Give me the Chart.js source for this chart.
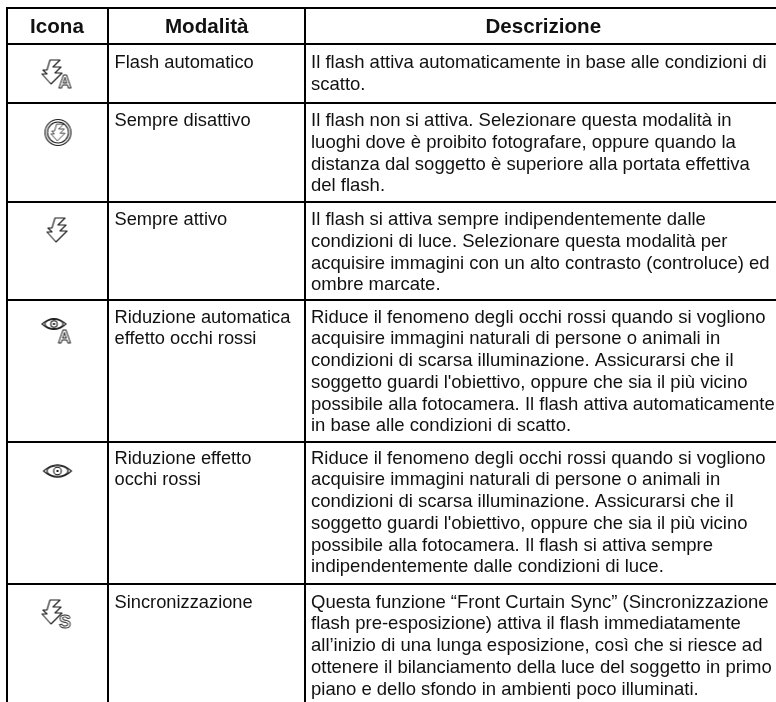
<!DOCTYPE html>
<html>
<head>
<meta charset="utf-8">
<style>
  html, body { margin: 0; padding: 0; background: #fff; }
  canvas { display: block; }
</style>
<script src="https://cdn.jsdelivr.net/npm/chart.js@4"></script>
</head>
<body>
<canvas id="tableChart" width="776" height="702"></canvas>
<script>
const headers = ['Icona', 'Modalità', 'Descrizione'];

const modes = [
  ['Flash automatico'],
  ['Sempre disattivo'],
  ['Sempre attivo'],
  ['Riduzione automatica', 'effetto occhi rossi'],
  ['Riduzione effetto', 'occhi rossi'],
  ['Sincronizzazione']
];

const descriptions = [
  ['Il flash attiva automaticamente in base alle condizioni di',
   'scatto.'],
  ['Il flash non si attiva. Selezionare questa modalità in',
   'luoghi dove è proibito fotografare, oppure quando la',
   'distanza dal soggetto è superiore alla portata effettiva',
   'del flash.'],
  ['Il flash si attiva sempre indipendentemente dalle',
   'condizioni di luce. Selezionare questa modalità per',
   'acquisire immagini con un alto contrasto (controluce) ed',
   'ombre marcate.'],
  ['Riduce il fenomeno degli occhi rossi quando si vogliono',
   'acquisire immagini naturali di persone o animali in',
   'condizioni di scarsa illuminazione. Assicurarsi che il',
   'soggetto guardi l\'obiettivo, oppure che sia il più vicino',
   'possibile alla fotocamera. Il flash attiva automaticamente',
   'in base alle condizioni di scatto.'],
  ['Riduce il fenomeno degli occhi rossi quando si vogliono',
   'acquisire immagini naturali di persone o animali in',
   'condizioni di scarsa illuminazione. Assicurarsi che il',
   'soggetto guardi l\'obiettivo, oppure che sia il più vicino',
   'possibile alla fotocamera. Il flash si attiva sempre',
   'indipendentemente dalle condizioni di luce.'],
  ['Questa funzione “Front Curtain Sync” (Sincronizzazione',
   'flash pre-esposizione) attiva il flash immediatamente',
   'all’inizio di una lunga esposizione, così che si riesce ad',
   'ottenere il bilanciamento della luce del soggetto in primo',
   'piano e dello sfondo in ambienti poco illuminati.']
];

const iconKinds = ['flashA', 'flashOff', 'flash', 'eyeA', 'eye', 'flashS'];

// table rules, in page pixels (the axes are set up so one unit is one pixel)
const columnEdges = [7, 108, 305];
const rowEdges = [8, 44, 103, 202, 300, 442, 584];

// first text baseline below each row's top rule
const firstBaseline = [24, 23, 23, 22.5, 21.5, 23.5];
const linePitch = 21.75;

function makeIcon(kind) {
  const c = document.createElement('canvas');
  c.width = 34;
  c.height = 30;
  const g = c.getContext('2d');
  g.strokeStyle = '#1a1a1a';
  g.lineWidth = 1.1;
  g.lineJoin = 'round';

  function bolt(dx, dy) {
    const pts = [[8, 0], [18, 0], [11, 7], [19, 7], [13, 13], [20, 13], [9, 24], [0, 14], [5, 14], [1, 10], [5, 10]];
    g.beginPath();
    pts.forEach((p, i) => {
      if (i === 0) g.moveTo(dx + p[0], dy + p[1]);
      else g.lineTo(dx + p[0], dy + p[1]);
    });
    g.closePath();
    g.stroke();
  }
  function eye(cx, cy, w) {
    const h = w * 0.9;
    g.beginPath();
    g.moveTo(cx - w, cy);
    g.quadraticCurveTo(cx, cy - h, cx + w, cy);
    g.quadraticCurveTo(cx, cy + h, cx - w, cy);
    g.closePath();
    g.stroke();
    g.beginPath();
    g.ellipse(cx, cy, w * 0.75, w * 0.38, 0, 0, Math.PI * 2);
    g.stroke();
    g.beginPath();
    g.arc(cx, cy, w * 0.27, 0, Math.PI * 2);
    g.stroke();
    g.fillStyle = '#1a1a1a';
    g.fillRect(cx - 1, cy - 1, 2, 2);
  }
  function badge(letter, x, y) {
    g.font = 'bold 18px "Liberation Sans"';
    g.textAlign = 'center';
    g.textBaseline = 'alphabetic';
    g.lineWidth = 0.9;
    g.strokeText(letter, x, y);
  }

  if (kind === 'flashA') { bolt(1.5, 1); badge('A', 24.5, 29); }
  if (kind === 'flashS') { bolt(1.5, 1); badge('S', 24.5, 29); }
  if (kind === 'flash') { bolt(6.5, 1); }
  if (kind === 'flashOff') {
    g.beginPath(); g.arc(17.5, 14.5, 13, 0, Math.PI * 2); g.stroke();
    g.beginPath(); g.arc(17.5, 14.5, 10.5, 0, Math.PI * 2); g.stroke();
    g.save();
    g.translate(17.5, 14.5); g.scale(0.7, 0.7); g.translate(-10, -12);
    bolt(0, 0);
    g.restore();
  }
  if (kind === 'eye') { eye(17, 14, 14); }
  if (kind === 'eyeA') { eye(13.5, 9, 12); badge('A', 24, 28); }
  return c;
}

const iconImages = iconKinds.map(makeIcon);
const iconPoints = iconKinds.map((k, i) => ({
  x: (columnEdges[0] + columnEdges[1]) / 2,
  y: rowEdges[i + 1] + 30
}));

const tableText = {
  id: 'tableText',
  afterDraw(chart) {
    const { ctx, scales } = chart;
    const x = scales.x, y = scales.y;
    ctx.save();
    ctx.fillStyle = '#111';
    ctx.textBaseline = 'alphabetic';

    ctx.font = 'bold 20.6px "Liberation Sans"';
    ctx.textAlign = 'center';
    const headCentres = [57, 206.7, 543.3];
    headers.forEach((h, i) => {
      ctx.fillText(h, x.getPixelForValue(headCentres[i]), y.getPixelForValue(32.7));
    });

    ctx.font = '18.3px "Liberation Sans"';
    ctx.textAlign = 'left';
    modes.forEach((lines, i) => {
      lines.forEach((line, j) => {
        ctx.fillText(line, x.getPixelForValue(114.5), y.getPixelForValue(rowEdges[i + 1] + firstBaseline[i] + j * linePitch));
      });
    });
    ctx.font = '18.5px "Liberation Sans"';
    descriptions.forEach((lines, i) => {
      lines.forEach((line, j) => {
        ctx.fillText(line, x.getPixelForValue(311), y.getPixelForValue(rowEdges[i + 1] + firstBaseline[i] + j * linePitch));
      });
    });
    ctx.restore();
  }
};

const ctx = document.getElementById('tableChart').getContext('2d');
new Chart(ctx, {
  type: 'scatter',
  data: {
    datasets: [{
      label: 'Icona',
      data: iconPoints,
      pointStyle: iconImages,
      pointRadius: 15,
      clip: false
    }]
  },
  options: {
    responsive: false,
    animation: false,
    layout: { autoPadding: false, padding: { left: 6, top: 7, right: 0, bottom: 0 } },
    plugins: { legend: { display: false }, tooltip: { enabled: false }, title: { display: false } },
    scales: {
      x: {
        type: 'linear', min: 6, max: 776,
        afterFit(s) { s.height = 0; },
        afterBuildTicks(s) { s.ticks = columnEdges.map(v => ({ value: v })); },
        ticks: { display: false },
        border: { display: false },
        grid: { color: '#000', lineWidth: 2, drawTicks: false }
      },
      y: {
        type: 'linear', min: 7, max: 702, reverse: true,
        afterFit(s) { s.width = 0; },
        afterBuildTicks(s) { s.ticks = rowEdges.map(v => ({ value: v })); },
        ticks: { display: false },
        border: { display: false },
        grid: { color: '#000', lineWidth: 2, drawTicks: false }
      }
    }
  },
  plugins: [tableText]
});
</script>
</body>
</html>
